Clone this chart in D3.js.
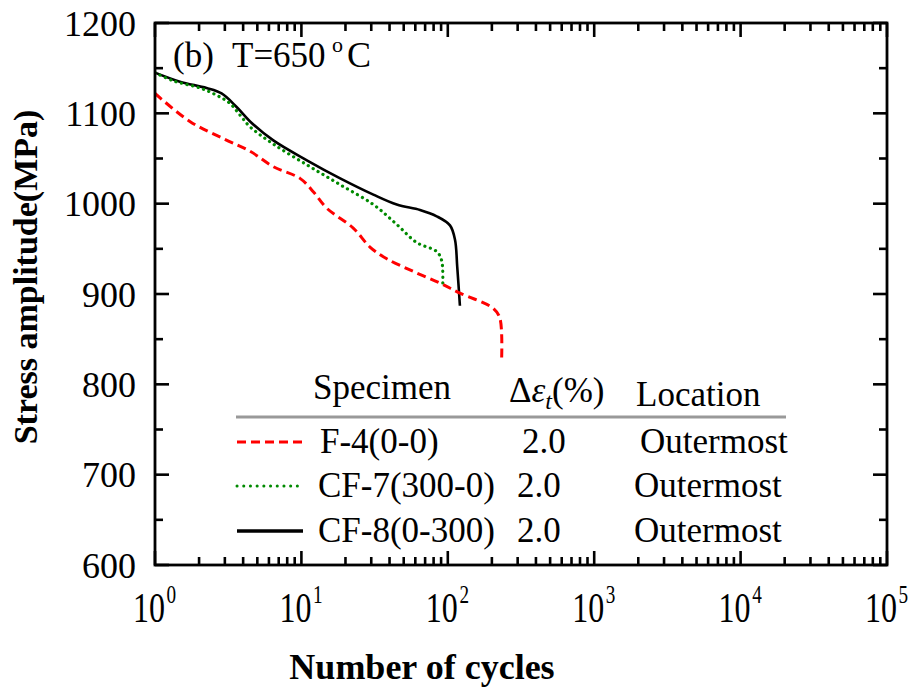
<!DOCTYPE html>
<html>
<head>
<meta charset="utf-8">
<script src="https://cdn.jsdelivr.net/npm/d3@7"></script>
<style>
  html, body { margin: 0; padding: 0; background: #fff; }
  svg { display: block; }
  text { font-family: "Liberation Serif", "Times New Roman", serif; fill: #000; }
</style>
</head>
<body>
<svg id="chart" width="911" height="690"></svg>
<script>
// ---------------- data ----------------
const seriesNames = ["F-4(0-0)", "CF-7(300-0)", "CF-8(0-300)"];
const strainRanges = ["2.0", "2.0", "2.0"];
const locations = ["Outermost", "Outermost", "Outermost"];

const cyclesF4 = [1, 1.73, 2.93, 4.46, 6.43, 9.78, 12.1, 14.9, 22.6, 29.4, 38.3, 58.1, 88.5, 121, 205, 227, 233];
const stressF4 = [1122, 1091, 1072, 1058, 1041, 1028, 1013, 995, 973, 952, 939, 925, 912, 901, 884, 873, 826];

const cyclesCF7 = [1, 1.33, 2.03, 2.64, 3.25, 3.81, 4.46, 6.43, 10.9, 18.4, 31, 44.8, 61.3, 84, 90.8, 92.4];
const stressCF7 = [1145, 1136, 1128, 1120, 1111, 1098, 1085, 1066, 1043, 1021, 999, 977, 957, 947, 937, 912];

const cyclesCF8 = [1, 1.48, 2.25, 2.85, 3.61, 4.46, 6.43, 10.9, 18.4, 31, 44.8, 64.6, 84, 103.5, 112, 116, 121];
const stressCF8 = [1145, 1135, 1128, 1122, 1107, 1091, 1070, 1048, 1028, 1010, 999, 993, 986, 976, 960, 930, 887];

const yTicks = [600, 700, 800, 900, 1000, 1100, 1200];
const xTickExponents = [0, 1, 2, 3, 4, 5];
const panelParts = ["(b)", "T=650", "o", "C"];
const xTitle = "Number of cycles";
const yTitle = "Stress amplitude(MPa)";
const legendHeaders = ["Specimen", "Δε", "Location"];

// ---------------- layout ----------------
const L = 155, R = 887, T = 23, B = 565;
const svg = d3.select("#chart");
const x = d3.scaleLog().domain([1, 1e5]).range([L, R]);
const y = d3.scaleLinear().domain([600, 1200]).range([B, T]);

const colors = ["#ff0000", "#008a00", "#000000"];
const dashes = ["9,5", "0.1,5.6", null];
const widths = [3, 3.2, 2.6];

// ---------------- curves ----------------
const allData = [
  cyclesF4.map((c, i) => [c, stressF4[i]]),
  cyclesCF7.map((c, i) => [c, stressCF7[i]]),
  cyclesCF8.map((c, i) => [c, stressCF8[i]])
];
const line = d3.line().x(d => x(d[0])).y(d => y(d[1])).curve(d3.curveCatmullRom.alpha(0.5));

svg.append("clipPath").attr("id", "clip").append("rect")
  .attr("x", L).attr("y", T).attr("width", R - L).attr("height", B - T);

const curves = svg.append("g").attr("clip-path", "url(#clip)");
[2, 1, 0].forEach(i => {
  curves.append("path")
    .attr("d", line(allData[i]))
    .attr("fill", "none")
    .attr("stroke", colors[i])
    .attr("stroke-width", widths[i])
    .attr("stroke-linecap", i === 1 ? "round" : "butt")
    .attr("stroke-linejoin", "round")
    .attr("stroke-dasharray", dashes[i]);
});

// ---------------- axes / ticks ----------------
const majorLen = 14, minorLen = 8;
const frame = svg.append("g");
const yMinor = d3.range(650, 1200, 100);
const xMinor = [];
for (let k = 0; k < 5; k++) for (let m = 2; m <= 9; m++) xMinor.push(m * Math.pow(10, k));

function tick(x1, y1, x2, y2) {
  frame.append("line").attr("x1", x1).attr("y1", y1).attr("x2", x2).attr("y2", y2)
    .attr("stroke", "#000").attr("stroke-width", 2.6);
}
yTicks.forEach(v => { tick(L, y(v), L + majorLen, y(v)); tick(R, y(v), R - majorLen, y(v)); });
yMinor.forEach(v => { tick(L, y(v), L + minorLen, y(v)); tick(R, y(v), R - minorLen, y(v)); });
xTickExponents.forEach(e => { const v = Math.pow(10, e); tick(x(v), B, x(v), B - majorLen); tick(x(v), T, x(v), T + majorLen); });
xMinor.forEach(v => { tick(x(v), B, x(v), B - minorLen); tick(x(v), T, x(v), T + minorLen); });

frame.append("rect").attr("x", L).attr("y", T).attr("width", R - L).attr("height", B - T)
  .attr("fill", "none").attr("stroke", "#000").attr("stroke-width", 2.8);

// y tick labels
svg.append("g").selectAll("text").data(yTicks).join("text")
  .attr("x", L - 19).attr("y", d => y(d) + 12.5)
  .attr("text-anchor", "end").attr("font-size", 36)
  .text(d => d);

// x tick labels (10^n)
const xl = svg.append("g").selectAll("g").data(xTickExponents).join("g")
  .attr("transform", d => `translate(${x(Math.pow(10, d)) + 10},622) scale(0.8,1.05)`);
xl.append("text").attr("text-anchor", "end").attr("font-size", 40).text("10");
xl.append("text").attr("x", 2).attr("y", -18).attr("font-size", 24).text(d => d);

// axis titles
svg.append("text").attr("x", 422).attr("y", 679).attr("text-anchor", "middle")
  .attr("font-size", 36).attr("font-weight", "bold").text(xTitle);
svg.append("text").attr("transform", "translate(37,277) rotate(-90)")
  .attr("text-anchor", "middle").attr("font-size", 34).attr("font-weight", "bold").text(yTitle);

// panel label
svg.append("text").attr("x", 173).attr("y", 67).attr("font-size", 35).text(panelParts[0]);
svg.append("text").attr("x", 232).attr("y", 67).attr("font-size", 35).text(panelParts[1]);
svg.append("text").attr("x", 332).attr("y", 52).attr("font-size", 22).text(panelParts[2]);
svg.append("text").attr("x", 347).attr("y", 67).attr("font-size", 36).text(panelParts[3]);

// ---------------- legend table ----------------
const lg = svg.append("g");
lg.append("text").attr("x", 313).attr("y", 399).attr("font-size", 35).text(legendHeaders[0]);
const de = lg.append("text").attr("x", 509).attr("y", 402).attr("font-size", 35);
de.append("tspan").text("Δ");
de.append("tspan").attr("font-style", "italic").text("ε");
de.append("tspan").attr("font-style", "italic").attr("font-size", 24).attr("dy", 7).text("t");
de.append("tspan").attr("dy", -7).text("(%)");
lg.append("text").attr("x", 636).attr("y", 406).attr("font-size", 35).text(legendHeaders[2]);
lg.append("line").attr("x1", 236).attr("x2", 786).attr("y1", 417).attr("y2", 417)
  .attr("stroke", "#999").attr("stroke-width", 3);

const rowY = [442, 486, 531];
const nameX = [320, 318, 318], valX = [522, 517, 517], locX = [640, 634, 634];
seriesNames.forEach((n, i) => {
  lg.append("line").attr("x1", 237).attr("x2", 303).attr("y1", rowY[i]).attr("y2", rowY[i])
    .attr("stroke", colors[i]).attr("stroke-width", i === 2 ? 3.5 : 3)
    .attr("stroke-linecap", i === 1 ? "round" : "butt")
    .attr("stroke-dasharray", i === 0 ? "9,5" : (i === 1 ? "0.1,6.6" : null));
  lg.append("text").attr("x", nameX[i]).attr("y", rowY[i] + 11).attr("font-size", 35).text(n);
  lg.append("text").attr("x", valX[i]).attr("y", rowY[i] + 11).attr("font-size", 35).text(strainRanges[i]);
  lg.append("text").attr("x", locX[i]).attr("y", rowY[i] + 11).attr("font-size", 35).text(locations[i]);
});
</script>
</body>
</html>
